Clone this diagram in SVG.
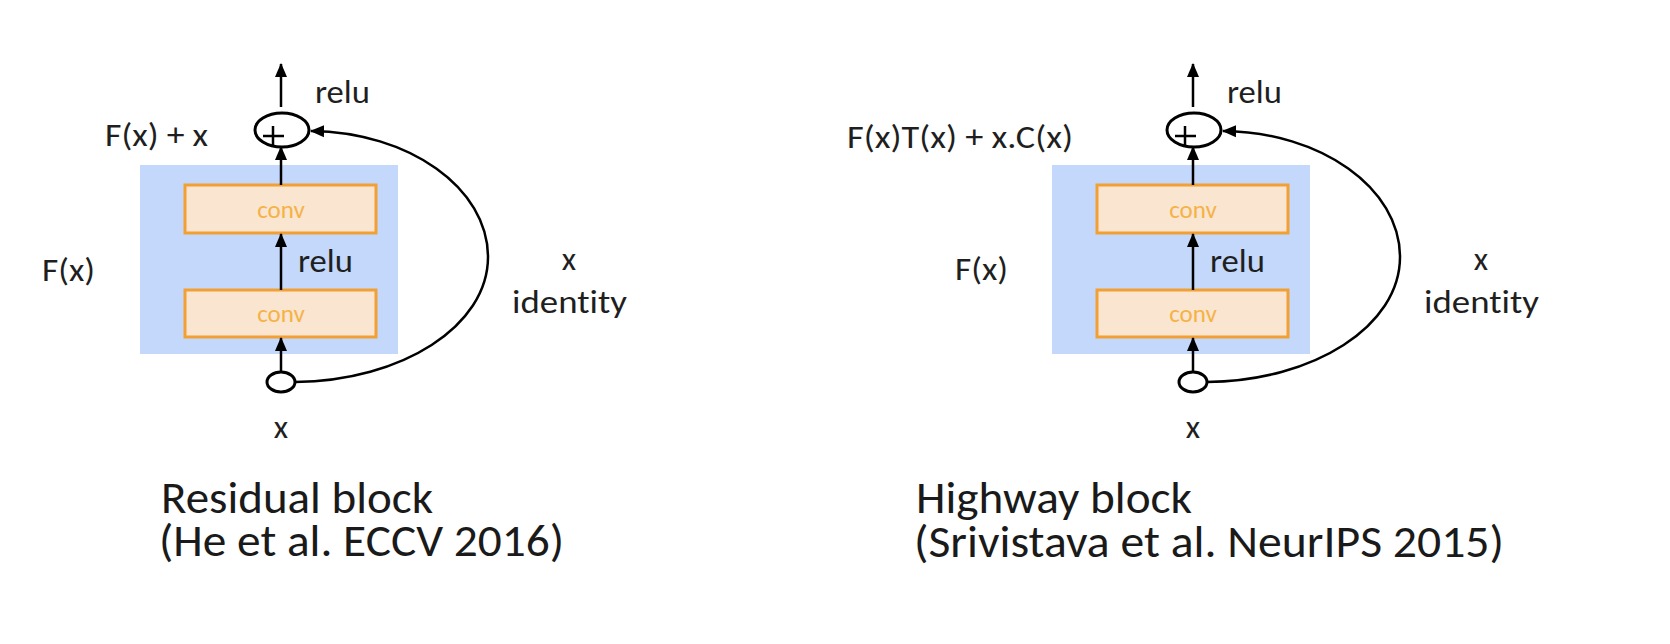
<svg xmlns="http://www.w3.org/2000/svg" width="1670" height="644" viewBox="0 0 1670 644">
<defs>
<style>
.bg{fill:#c3d8fa}
.conv{fill:#f9e5d0;stroke:#f29f33;stroke-width:3}
.convt{font-family:Carlito,Lato,sans-serif;font-size:25px;fill:#f5b246;text-anchor:middle}
.lbl{font-family:Carlito,Lato,sans-serif;font-size:33px;fill:#1f1f1f;font-variant-ligatures:none}
.ttl{font-family:Carlito,Lato,sans-serif;font-size:45px;fill:#1a1a1a;font-variant-ligatures:none}
.ln{fill:none;stroke:#000;stroke-width:2.5}
.circ{fill:#fff;stroke:#000;stroke-width:3}
.mid{text-anchor:middle}
</style>
<marker id="ah" markerUnits="userSpaceOnUse" markerWidth="14" markerHeight="14" viewBox="0 0 14 14" refX="13" refY="7" orient="auto">
<path d="M0,1 L14,7 L0,13 z" fill="#000"/>
</marker>
</defs>
<rect width="1670" height="644" fill="#fff"/>

<!-- Residual block -->
<g id="residual">
<g id="res-fx-box"><rect class="bg" x="140" y="165" width="258" height="189"/></g>
<g id="res-conv2"><rect class="conv" x="185" y="185" width="191" height="48"/><text class="convt" x="281" y="218">conv</text></g>
<g id="res-conv1"><rect class="conv" x="185" y="290" width="191" height="47"/><text class="convt" x="281" y="322">conv</text></g>
<g id="res-sum"><ellipse class="circ" cx="282" cy="130" rx="27" ry="17"/><path class="ln" d="M263,136 H284 M273,126 V147"/></g>
<g id="res-input"><ellipse class="circ" cx="281" cy="382" rx="14" ry="10"/></g>
<g id="res-connectors">
<path class="ln" d="M281,371 V338" marker-end="url(#ah)"/>
<path class="ln" d="M281,290 V234" marker-end="url(#ah)"/>
<path class="ln" d="M281,185 V147" marker-end="url(#ah)"/>
<path class="ln" d="M281,107 V64" marker-end="url(#ah)"/>
<path class="ln" d="M295,382 C402,381 488,326 488,257 C488,188 409,132 311,131" marker-end="url(#ah)"/>
</g>
<g id="res-labels">
<text class="lbl" x="315" y="103" textLength="55" lengthAdjust="spacingAndGlyphs">relu</text>
<text class="lbl" x="105" y="146" textLength="103" lengthAdjust="spacingAndGlyphs">F(x) + x</text>
<text class="lbl" x="298" y="272" textLength="55" lengthAdjust="spacingAndGlyphs">relu</text>
<text class="lbl" x="42" y="281" textLength="53" lengthAdjust="spacingAndGlyphs">F(x)</text>
<text class="lbl mid" x="569" y="270">x</text>
<text class="lbl" x="512" y="313" textLength="115" lengthAdjust="spacingAndGlyphs">identity</text>
<text class="lbl mid" x="281" y="438">x</text>
<text class="ttl" x="161" y="513" textLength="272" lengthAdjust="spacingAndGlyphs">Residual block</text>
<text class="ttl" x="159" y="556" textLength="405" lengthAdjust="spacingAndGlyphs">(He et al. ECCV 2016)</text>
</g>
</g>

<!-- Highway block -->
<g id="highway">
<g id="hw-fx-box"><rect class="bg" x="1052" y="165" width="258" height="189"/></g>
<g id="hw-conv2"><rect class="conv" x="1097" y="185" width="191" height="48"/><text class="convt" x="1193" y="218">conv</text></g>
<g id="hw-conv1"><rect class="conv" x="1097" y="290" width="191" height="47"/><text class="convt" x="1193" y="322">conv</text></g>
<g id="hw-sum"><ellipse class="circ" cx="1194" cy="130" rx="27" ry="17"/><path class="ln" d="M1175,136 H1196 M1185,126 V147"/></g>
<g id="hw-input"><ellipse class="circ" cx="1193" cy="382" rx="14" ry="10"/></g>
<g id="hw-connectors">
<path class="ln" d="M1193,371 V338" marker-end="url(#ah)"/>
<path class="ln" d="M1193,290 V234" marker-end="url(#ah)"/>
<path class="ln" d="M1193,185 V147" marker-end="url(#ah)"/>
<path class="ln" d="M1193,107 V64" marker-end="url(#ah)"/>
<path class="ln" d="M1207,382 C1314,381 1400,326 1400,257 C1400,188 1321,132 1223,131" marker-end="url(#ah)"/>
</g>
<g id="hw-labels">
<text class="lbl" x="1227" y="103" textLength="55" lengthAdjust="spacingAndGlyphs">relu</text>
<text class="lbl" x="847" y="148" textLength="226" lengthAdjust="spacingAndGlyphs">F(x)T(x) + x.C(x)</text>
<text class="lbl" x="1210" y="272" textLength="55" lengthAdjust="spacingAndGlyphs">relu</text>
<text class="lbl" x="955" y="280" textLength="53" lengthAdjust="spacingAndGlyphs">F(x)</text>
<text class="lbl mid" x="1481" y="270">x</text>
<text class="lbl" x="1424" y="313" textLength="115" lengthAdjust="spacingAndGlyphs">identity</text>
<text class="lbl mid" x="1193" y="438">x</text>
<text class="ttl" x="916" y="513" textLength="276" lengthAdjust="spacingAndGlyphs">Highway block</text>
<text class="ttl" x="914" y="557" textLength="590" lengthAdjust="spacingAndGlyphs">(Srivistava et al. NeurIPS 2015)</text>
</g>
</g>
</svg>
